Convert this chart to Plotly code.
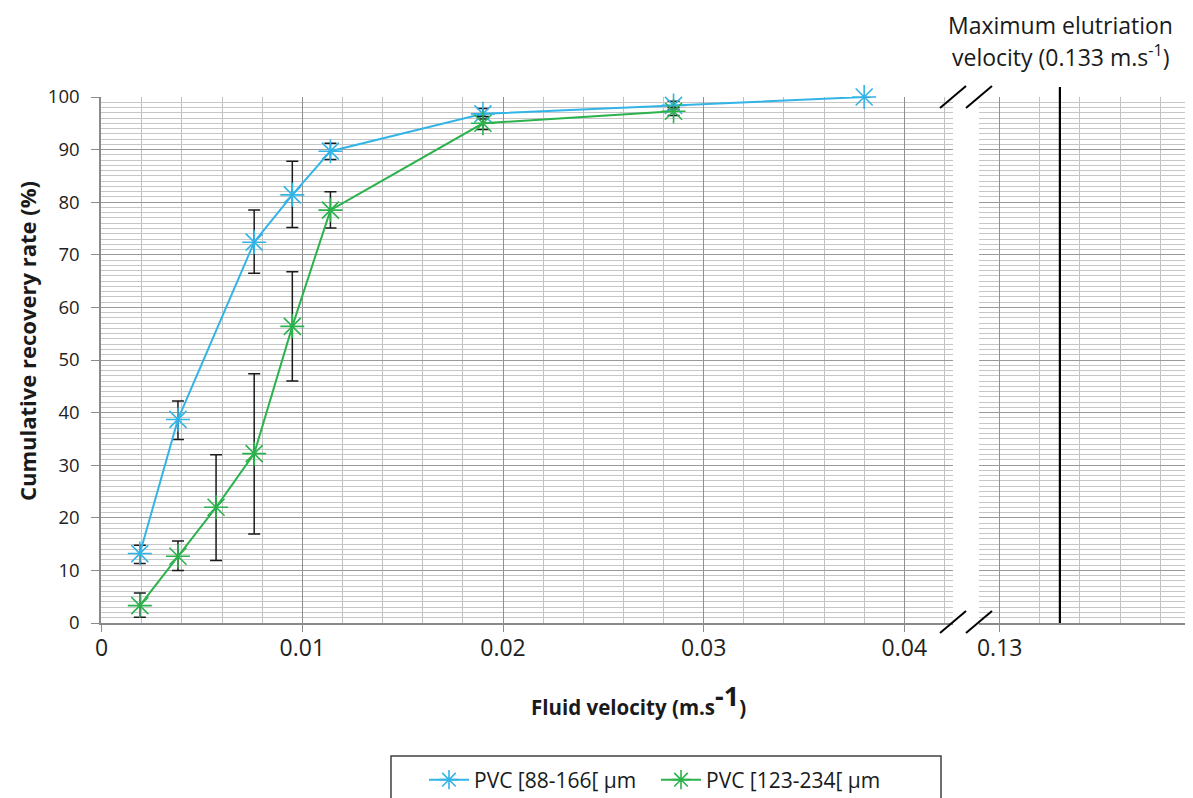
import plotly.graph_objects as go

# ---------------- data ----------------
blue_name = "PVC [88-166[ µm"
blue_x = [0.0019, 0.0038, 0.0076, 0.0095, 0.0114, 0.019, 0.0285, 0.038]
blue_y = [13.2, 38.7, 72.4, 81.4, 89.7, 96.8, 98.4, 100.0]
blue_err_plus = [1.6, 3.5, 6.1, 6.4, 1.5, 1.0, 0.8, 0.0]
blue_err_minus = [1.9, 3.8, 5.9, 6.2, 1.6, 1.0, 0.8, 0.0]

green_name = "PVC [123-234[ µm"
green_x = [0.0019, 0.0038, 0.0057, 0.0076, 0.0095, 0.0114, 0.019, 0.0285]
green_y = [3.3, 12.7, 22.0, 32.2, 56.4, 78.5, 95.0, 97.3]
green_err_plus = [2.4, 2.9, 10.0, 15.2, 10.4, 3.5, 1.3, 0.7]
green_err_minus = [2.2, 2.7, 10.1, 15.3, 10.4, 3.4, 1.2, 0.8]

max_elutriation_velocity = 0.133

# ---------------- layout geometry (page pixels, page body has 8px margin) ----------------
OFF = 8
W, H = 1193 - OFF, 798 - OFF
PL, PR, PT, PB = 101, 1190, 97, 623  # plot area in page pixels
ML, MR, MT, MB = PL - OFF, (W + OFF) - PR, PT - OFF, (H + OFF) - PB
PW = PR - PL
PH = PB - PT

def px(xp):
    return (xp - PL) / PW

def py(yp):
    return (PB - yp) / PH

gap_l_px, gap_r_px = 953, 979
dom1 = [0, px(gap_l_px)]
dom2 = [px(gap_r_px), 1]
scale = 802.6 / 0.04  # px per unit
x0_px = 101.7
range1 = [(PL - x0_px) / scale, (gap_l_px - x0_px) / scale]
range2 = [0.13 - (999.7 - gap_r_px) / scale, 0.13 + (PR - 999.7) / scale]

BLUE = "#33B4E6"
GREEN = "#2BB24C"
FONT = "Open Sans"

fig = go.Figure()

def add_series(x, y, ep, em, color, name, xaxis):
    fig.add_trace(go.Scatter(
        x=x, y=y, name=name, mode="lines+markers", xaxis=xaxis, yaxis="y",
        line=dict(color=color, width=2),
        marker=dict(symbol="asterisk-open", size=20, line=dict(color=color, width=1.6), color=color),
        error_y=dict(type="data", symmetric=False, array=ep, arrayminus=em,
                     color="#1a1a1a", thickness=1.5, width=6),
        cliponaxis=False,
    ))

add_series(blue_x, blue_y, blue_err_plus, blue_err_minus, BLUE, blue_name, "x")
add_series(green_x, green_y, green_err_plus, green_err_minus, GREEN, green_name, "x")

# invisible trace to establish the right-hand subplot
fig.add_trace(go.Scatter(x=[max_elutriation_velocity], y=[None], xaxis="x2", yaxis="y",
                         showlegend=False, hoverinfo="skip", mode="markers"))

axis_common = dict(
    showline=True, linecolor="#8a8a8a", linewidth=1.5,
    ticks="outside", ticklen=7, tickcolor="#8a8a8a", tickwidth=1.2,
    showgrid=True, gridcolor="#8f8f8f", gridwidth=1.3,
    dtick=0.01, tick0=0, zeroline=False,
    minor=dict(dtick=0.002, tick0=0, showgrid=True, gridcolor="#c0c0c0", gridwidth=1.4, ticks=""),
    tickfont=dict(family=FONT, size=23, color="#222"),
    ticklabelstandoff=-3,
    automargin=False,
)

fig.update_layout(
    width=W, height=H,
    margin=dict(l=ML, r=MR, t=MT, b=MB, autoexpand=False),
    paper_bgcolor="white", plot_bgcolor="white",
    font=dict(family=FONT, color="#1a1a1a"),
    xaxis=dict(domain=dom1, range=range1, anchor="y", **axis_common),
    xaxis2=dict(domain=dom2, range=range2, anchor="y", **axis_common),
    yaxis=dict(
        range=[0, 100], dtick=10, anchor="x",
        showline=True, linecolor="#8a8a8a", linewidth=1.5,
        ticks="outside", ticklen=8, tickcolor="#8a8a8a", tickwidth=1.2,
        showgrid=True, gridcolor="#9a9a9a", gridwidth=1.2, zeroline=False,
        minor=dict(dtick=1, showgrid=True, gridcolor="#c6c6c6", gridwidth=1, ticks=""),
        tickfont=dict(family=FONT, size=18.5, color="#222"),
        ticklabelstandoff=8,
        automargin=False,
    ),
    showlegend=True,
    legend=dict(
        orientation="h", x=px(424), y=py(780), xanchor="left", yanchor="middle",
        font=dict(family=FONT, size=21, color="#1a1a1a"),
        bgcolor="rgba(0,0,0,0)", borderwidth=0,
        itemwidth=40, tracegroupgap=0,
        entrywidth=177, entrywidthmode="pixels",
    ),
)

# legend frame
fig.add_shape(type="rect", xref="paper", yref="paper",
              x0=px(391), x1=px(941), y0=py(812), y1=py(756),
              line=dict(color="#404040", width=1.5), fillcolor="rgba(0,0,0,0)", layer="above")

# maximum elutriation velocity line
fig.add_shape(type="line", xref="x2", yref="y domain",
              x0=max_elutriation_velocity, x1=max_elutriation_velocity, y0=0, y1=1.019,
              line=dict(color="black", width=2.2), layer="above")

# axis break marks
for cx in (gap_l_px, gap_r_px):
    for cy in (97, 622):
        fig.add_shape(type="line", xref="paper", yref="paper",
                      x0=px(cx - 13), y0=py(cy + 11), x1=px(cx + 13), y1=py(cy - 11),
                      line=dict(color="black", width=2), layer="above")

# titles
fig.add_annotation(xref="paper", yref="paper", x=px(638), y=py(699),
                   text="<b>Fluid velocity (m.s<sup><span style='font-size:27px'>-1</span></sup>)</b>",
                   showarrow=False, font=dict(family=FONT, size=20.5, color="#1a1a1a"),
                   xanchor="center", yanchor="middle")
fig.add_annotation(xref="paper", yref="paper", x=px(27), y=py(341),
                   text="<b>Cumulative recovery rate (%)</b>", textangle=-90,
                   showarrow=False, font=dict(family=FONT, size=22, color="#1a1a1a"),
                   xanchor="center", yanchor="middle")
fig.add_annotation(xref="paper", yref="paper", x=px(1060), y=py(25),
                   text="Maximum elutriation",
                   showarrow=False, font=dict(family=FONT, size=23, color="#1a1a1a"),
                   xanchor="center", yanchor="middle")
fig.add_annotation(xref="paper", yref="paper", x=px(1060), y=py(56),
                   text="velocity (0.133 m.s<sup>-1</sup>)",
                   showarrow=False, font=dict(family=FONT, size=23, color="#1a1a1a"),
                   xanchor="center", yanchor="middle")

fig.write_html("out.html")
